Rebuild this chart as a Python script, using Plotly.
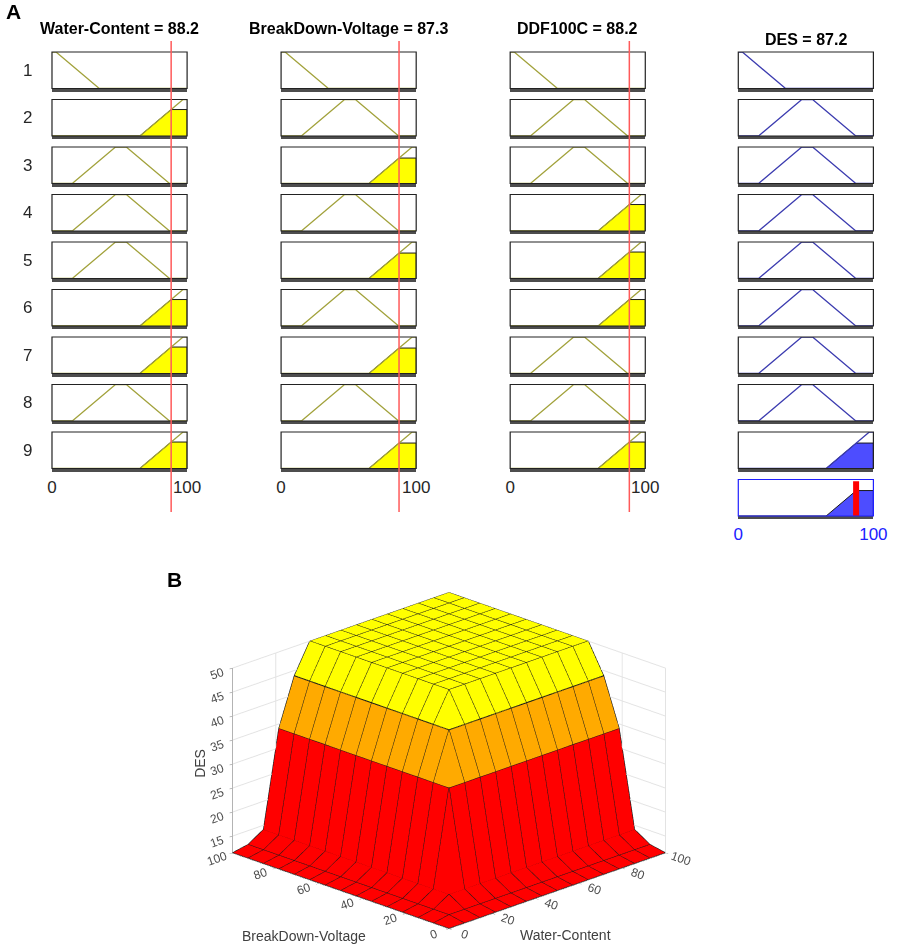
import numpy as np
import plotly.graph_objects as go

# ---------------- data ----------------
input_names = ["Water-Content", "BreakDown-Voltage", "DDF100C"]
input_values = [88.2, 87.3, 88.2]
output_name = "DES"
output_value = 87.2

# membership functions on the 0-100 universe (break points)
mf_x = {
    "low": [0, 3, 35, 100],
    "medium": [0, 15, 47, 55, 87, 100],
    "high": [0, 65, 97, 100],
}
mf_y = {
    "low": [1, 1, 0, 0],
    "medium": [0, 0, 1, 1, 0, 0],
    "high": [0, 0, 1, 1],
}

# rule base: Water-Content, BreakDown-Voltage, DDF100C -> DES
rules = [
    ["low", "low", "low", "low"],
    ["high", "medium", "medium", "medium"],
    ["medium", "high", "medium", "medium"],
    ["medium", "medium", "high", "medium"],
    ["medium", "high", "high", "medium"],
    ["high", "medium", "high", "medium"],
    ["high", "high", "medium", "medium"],
    ["medium", "medium", "medium", "medium"],
    ["high", "high", "high", "high"],
]

# surface view: DES over Water-Content (columns) x BreakDown-Voltage (rows)
surf_axis = [0, 7.14, 14.29, 21.43, 28.57, 35.71, 42.86, 50,
             57.14, 64.29, 71.43, 78.57, 85.71, 92.86, 100]
des_surface = [
    [11.5, 11.5, 11.5, 11.5, 11.5, 11.5, 11.5, 11.5, 11.5, 11.5, 11.5, 11.5, 11.5, 11.5, 11.5],
    [11.5, 12.1, 12.1, 12.1, 12.1, 12.1, 12.1, 12.1, 12.1, 12.1, 12.1, 12.1, 12.1, 12.1, 12.1],
    [11.5, 12.1, 14.1, 14.1, 14.1, 14.1, 14.1, 14.1, 14.1, 14.1, 14.1, 14.1, 14.1, 14.1, 14.1],
    [11.5, 12.1, 14.1, 34.1, 34.1, 34.1, 34.1, 34.1, 34.1, 34.1, 34.1, 34.1, 34.1, 34.1, 34.1],
    [11.5, 12.1, 14.1, 34.1, 43.9, 43.9, 43.9, 43.9, 43.9, 43.9, 43.9, 43.9, 43.9, 43.9, 43.9],
    [11.5, 12.1, 14.1, 34.1, 43.9, 50, 50, 50, 50, 50, 50, 50, 50, 50, 50],
    [11.5, 12.1, 14.1, 34.1, 43.9, 50, 50, 50, 50, 50, 50, 50, 50, 50, 50],
    [11.5, 12.1, 14.1, 34.1, 43.9, 50, 50, 50, 50, 50, 50, 50, 50, 50, 50],
    [11.5, 12.1, 14.1, 34.1, 43.9, 50, 50, 50, 50, 50, 50, 50, 50, 50, 50],
    [11.5, 12.1, 14.1, 34.1, 43.9, 50, 50, 50, 50, 50, 50, 50, 50, 50, 50],
    [11.5, 12.1, 14.1, 34.1, 43.9, 50, 50, 50, 50, 50, 50, 50, 50, 50, 50],
    [11.5, 12.1, 14.1, 34.1, 43.9, 50, 50, 50, 50, 50, 50, 50, 50, 50, 50],
    [11.5, 12.1, 14.1, 34.1, 43.9, 50, 50, 50, 50, 50, 50, 50, 50, 50, 50],
    [11.5, 12.1, 14.1, 34.1, 43.9, 50, 50, 50, 50, 50, 50, 50, 50, 50, 50],
    [11.5, 12.1, 14.1, 34.1, 43.9, 50, 50, 50, 50, 50, 50, 50, 50, 50, 50],
]

# ---------------- layout helpers ----------------
W, H = 906, 945
FONT = "Liberation Sans, Arial, sans-serif"
col_left = [48, 282, 516, 749]
col_w = 138
row_top, row_step, row_h = 52, 47.5, 36.5

IN_LINE = "#a2a23c"
OUT_LINE = "#3c3cb0"
OUT_FILL = "#4d4dff"


def xdom(c):
    return [col_left[c] / W, (col_left[c] + col_w) / W]


def ydom(r):
    top = row_top + r * row_step
    return [1 - (top + row_h) / H, 1 - top / H]


def memb(mf, v):
    return float(np.interp(v, mf_x[mf], mf_y[mf]))


def clipped_area(mf, strength):
    # area under a membership function, cut at the firing strength
    px, py = [mf_x[mf][0]], [0]
    for i in range(len(mf_x[mf]) - 1):
        x0, x1 = mf_x[mf][i], mf_x[mf][i + 1]
        y0, y1 = mf_y[mf][i], mf_y[mf][i + 1]
        px.append(x0)
        py.append(min(y0, strength))
        if (y0 - strength) * (y1 - strength) < 0:
            px.append(x0 + (strength - y0) * (x1 - x0) / (y1 - y0))
            py.append(strength)
    px += [mf_x[mf][-1], mf_x[mf][-1]]
    py += [min(mf_y[mf][-1], strength), 0]
    return px, py


fig = go.Figure()
shapes = []
axes = {}
n = 0
first_axis_of_col = {}

n_rules = len(rules)
for c in range(4):
    is_out = c == 3
    nrows = n_rules + 1 if is_out else n_rules
    for r in range(nrows):
        n += 1
        xa = "x" if n == 1 else f"x{n}"
        ya = "y" if n == 1 else f"y{n}"
        first_axis_of_col.setdefault(c, xa)
        bottom = r == nrows - 1
        aggregate = is_out and r == n_rules

        if not aggregate:
            mf = rules[r][c]
            if is_out:
                strength = min(memb(rules[r][k], input_values[k]) for k in range(3))
            else:
                strength = memb(mf, input_values[c])
            if strength > 0:
                px, py = clipped_area(mf, strength)
                fig.add_trace(go.Scatter(
                    x=px, y=py, xaxis=xa, yaxis=ya, mode="lines", fill="toself",
                    fillcolor=OUT_FILL if is_out else "#ffff00",
                    line=dict(color="#1a1a1a", width=1), cliponaxis=False,
                    hoverinfo="skip"))
            fig.add_trace(go.Scatter(
                x=mf_x[mf], y=mf_y[mf], xaxis=xa, yaxis=ya, mode="lines",
                line=dict(color=OUT_LINE if is_out else IN_LINE, width=1.3),
                cliponaxis=False, hoverinfo="skip"))
        else:
            # aggregated output = max over the fired rules
            strength = 0
            for rule in rules:
                s = min(memb(rule[k], input_values[k]) for k in range(3))
                if s > strength:
                    strength, mf = s, rule[3]
            px, py = clipped_area(mf, strength)
            fig.add_trace(go.Scatter(
                x=px, y=py, xaxis=xa, yaxis=ya, mode="lines", fill="toself",
                fillcolor=OUT_FILL, line=dict(color="#1a1a1a", width=1),
                cliponaxis=False, hoverinfo="skip"))
            fig.add_trace(go.Scatter(
                x=[output_value, output_value], y=[-0.03, 0.95], xaxis=xa, yaxis=ya,
                mode="lines", line=dict(color="#ff0000", width=6),
                cliponaxis=False, hoverinfo="skip"))

        frame_col = "#2020ff" if aggregate else "#222222"
        axes["xaxis" if n == 1 else f"xaxis{n}"] = dict(
            domain=xdom(c), range=[0, 100], anchor=ya, showgrid=False,
            zeroline=False, showline=True, linecolor="#4d4d4d", linewidth=2.5,
            mirror=False, layer="below traces" if is_out else "above traces",
            tickvals=[0, 100], showticklabels=bottom, ticks="outside" if bottom else "",
            ticklen=1, tickcolor="rgba(0,0,0,0)",
            tickfont=dict(size=17, family=FONT, color="#2020ff" if is_out else "#262626"),
            fixedrange=True)
        axes["yaxis" if n == 1 else f"yaxis{n}"] = dict(
            domain=ydom(r), range=[0, 1], anchor=xa, showgrid=False,
            zeroline=False, showline=False, showticklabels=False, fixedrange=True)
        shapes.append(dict(
            type="rect", xref=f"{xa} domain", yref=f"{ya} domain",
            x0=0, x1=1, y0=0, y1=1, line=dict(color=frame_col, width=1.2),
            layer="above"))

# red input markers crossing each input column
for c in range(3):
    shapes.append(dict(
        type="line", xref=first_axis_of_col[c], yref="paper",
        x0=input_values[c], x1=input_values[c],
        y0=1 - 512 / H, y1=1 - 41 / H,
        line=dict(color="#ff5a5a", width=1.5), layer="above"))

# ---------------- 3D surface ----------------
X, Y = np.meshgrid(surf_axis, surf_axis)
Z = np.array(des_surface)
ns = len(surf_axis)
ii, jj, kk, cell = [], [], [], []
for r in range(ns - 1):
    for c in range(ns - 1):
        a, b, cc, d = r * ns + c, r * ns + c + 1, (r + 1) * ns + c + 1, (r + 1) * ns + c
        ii += [a, a]
        jj += [b, cc]
        kk += [cc, d]
        cell += [Z[r, c], Z[r, c]]

autumn4 = [[0, "#ff0000"], [0.25, "#ff0000"], [0.25, "#ff5500"], [0.5, "#ff5500"],
           [0.5, "#ffaa00"], [0.75, "#ffaa00"], [0.75, "#ffff00"], [1, "#ffff00"]]

fig.add_trace(go.Mesh3d(
    x=X.ravel(), y=Y.ravel(), z=Z.ravel(), i=ii, j=jj, k=kk,
    intensity=cell, intensitymode="cell", colorscale=autumn4,
    cmin=Z.min(), cmax=Z.max(), showscale=False, flatshading=True,
    lighting=dict(ambient=1, diffuse=0, specular=0, fresnel=0, roughness=1),
    hoverinfo="skip", scene="scene"))

wx, wy, wz = [], [], []
for r in range(ns):
    wx += list(X[r]) + [None]
    wy += list(Y[r]) + [None]
    wz += list(Z[r]) + [None]
for c in range(ns):
    wx += list(X[:, c]) + [None]
    wy += list(Y[:, c]) + [None]
    wz += list(Z[:, c]) + [None]
fig.add_trace(go.Scatter3d(
    x=wx, y=wy, z=wz, mode="lines", line=dict(color="#1a1a1a", width=2),
    hoverinfo="skip", scene="scene"))

ax3 = dict(showbackground=False, gridcolor="#e3e3e3", showline=True,
           linecolor="#7a7a7a", zeroline=False, showspikes=False,
           tickfont=dict(size=12, family=FONT, color="#4d4d4d"),
           ticks="outside", ticklen=4, tickcolor="#7a7a7a", title=dict(text=""))

pad = 0.02
fig.update_layout(
    width=W, height=H, margin=dict(l=0, r=0, t=0, b=0),
    paper_bgcolor="white", plot_bgcolor="white", showlegend=False,
    font=dict(family=FONT),
    shapes=shapes,
    scene=dict(
        domain=dict(x=[0.135, 0.865], y=[0.0, 0.39]),
        xaxis=dict(ax3, range=[-pad, 100 + pad], tickvals=[0, 20, 40, 60, 80, 100]),
        yaxis=dict(ax3, range=[-pad, 100 + pad], tickvals=[0, 20, 40, 60, 80, 100]),
        zaxis=dict(ax3, range=[Z.min() - pad, Z.max() + pad],
                   tickvals=[15, 20, 25, 30, 35, 40, 45, 50]),
        aspectmode="manual", aspectratio=dict(x=1.66, y=1.66, z=1.07),
        camera=dict(eye=dict(x=-0.72, y=-0.72, z=0.38), center=dict(x=0, y=0, z=0),
                    up=dict(x=0, y=0, z=1), projection=dict(type="orthographic")),
    ),
    **axes,
)

ann = []
titles = [f"{nm} = {v}" for nm, v in zip(input_names, input_values)]
for c, t in enumerate(titles):
    ann.append(dict(text=f"<b>{t}</b>", x=(col_left[c] + col_w / 2) / W, y=1 - 28 / H,
                    font=dict(size=16, color="black")))
ann.append(dict(text=f"<b>{output_name} = {output_value}</b>",
                x=(col_left[3] + col_w / 2) / W, y=1 - 39.5 / H,
                font=dict(size=16, color="black")))
for r in range(n_rules):
    top = row_top + r * row_step
    ann.append(dict(text=str(r + 1), x=23 / W, y=1 - (top + row_h / 2) / H,
                    font=dict(size=17, color="#262626")))
ann.append(dict(text="<b>A</b>", x=9 / W, y=1 - 12 / H, font=dict(size=21, color="black")))
ann.append(dict(text="<b>B</b>", x=173 / W, y=1 - 579 / H, font=dict(size=21, color="black")))
ann.append(dict(text=output_name, x=199 / W, y=1 - 763 / H, textangle=-90,
                font=dict(size=14, color="#404040")))
ann.append(dict(text=input_names[0], x=573 / W, y=1 - 935 / H,
                font=dict(size=14, color="#404040")))
ann.append(dict(text=input_names[1], x=305 / W, y=1 - 936 / H,
                font=dict(size=14, color="#404040")))
for a in ann:
    a.update(xref="paper", yref="paper", showarrow=False, xanchor="center", yanchor="middle")
fig.update_layout(annotations=ann)

fig.write_html(
    "out.html",
    config={"displayModeBar": False},
    post_script="document.body.style.margin='0';document.body.style.overflow='hidden';")
